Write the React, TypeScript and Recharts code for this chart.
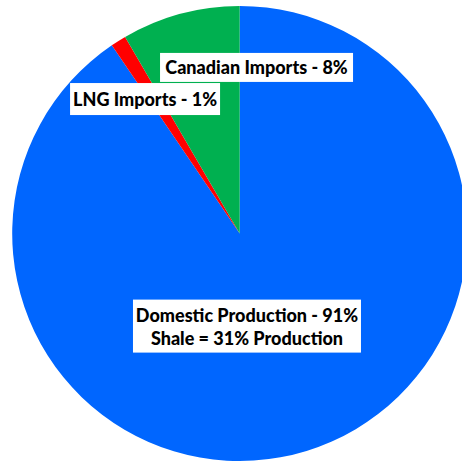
import React from "react";
import { PieChart, Pie, Cell } from "recharts";

const categories = ["Domestic Production", "LNG Imports", "Canadian Imports"];
const shares = [90.5, 1.1, 8.4];
const labelLines = [
  ["Domestic Production - 91%", "Shale = 31% Production"],
  ["LNG Imports - 1%"],
  ["Canadian Imports - 8%"],
];
const colors = ["#0066FF", "#FF0000", "#00B050"];

const data = categories.map((name, i) => ({ name, value: shares[i] }));

// label box placement relative to pie centre, in units of radius, plus box size in px
const labelLayout = [
  { dx: 0.032, dy: 0.407, w: 228, h: 53 },
  { dx: -0.416, dy: -0.591, w: 150, h: 32 },
  { dx: 0.074, dy: -0.73, w: 193, h: 29 },
];

const FONT = "Lato, 'Open Sans', sans-serif";

const renderLabel = (props: any) => {
  const { cx, cy, outerRadius, index } = props;
  const l = labelLayout[index];
  const x = cx + l.dx * outerRadius;
  const y = cy + l.dy * outerRadius;
  const lines = labelLines[index];
  const lh = 23;
  return (
    <g>
      <rect x={x - l.w / 2} y={y - l.h / 2} width={l.w} height={l.h} fill="#FFFFFF" />
      {lines.map((t, k) => (
        <text
          key={k}
          x={x}
          y={y + (k - (lines.length - 1) / 2) * lh}
          textAnchor="middle"
          dominantBaseline="central"
          fontFamily={FONT}
          fontWeight="900"
          fontSize={18}
          fill="#000000"
        >
          {t}
        </text>
      ))}
    </g>
  );
};

export default function App() {
  return (
    <div style={{ position: "absolute", left: 0, top: 0, background: "#fff" }}>
      <PieChart width={462} height={463} margin={{ top: 0, right: 0, bottom: 0, left: 0 }}>
        <Pie
          data={data}
          dataKey="value"
          nameKey="name"
          cx={239.7}
          cy={233.5}
          outerRadius={227.5}
          startAngle={90}
          endAngle={-270}
          stroke="none"
          label={renderLabel}
          labelLine={false}
          isAnimationActive={false}
        >
          {data.map((d, i) => (
            <Cell key={d.name} fill={colors[i]} />
          ))}
        </Pie>
      </PieChart>
    </div>
  );
}
